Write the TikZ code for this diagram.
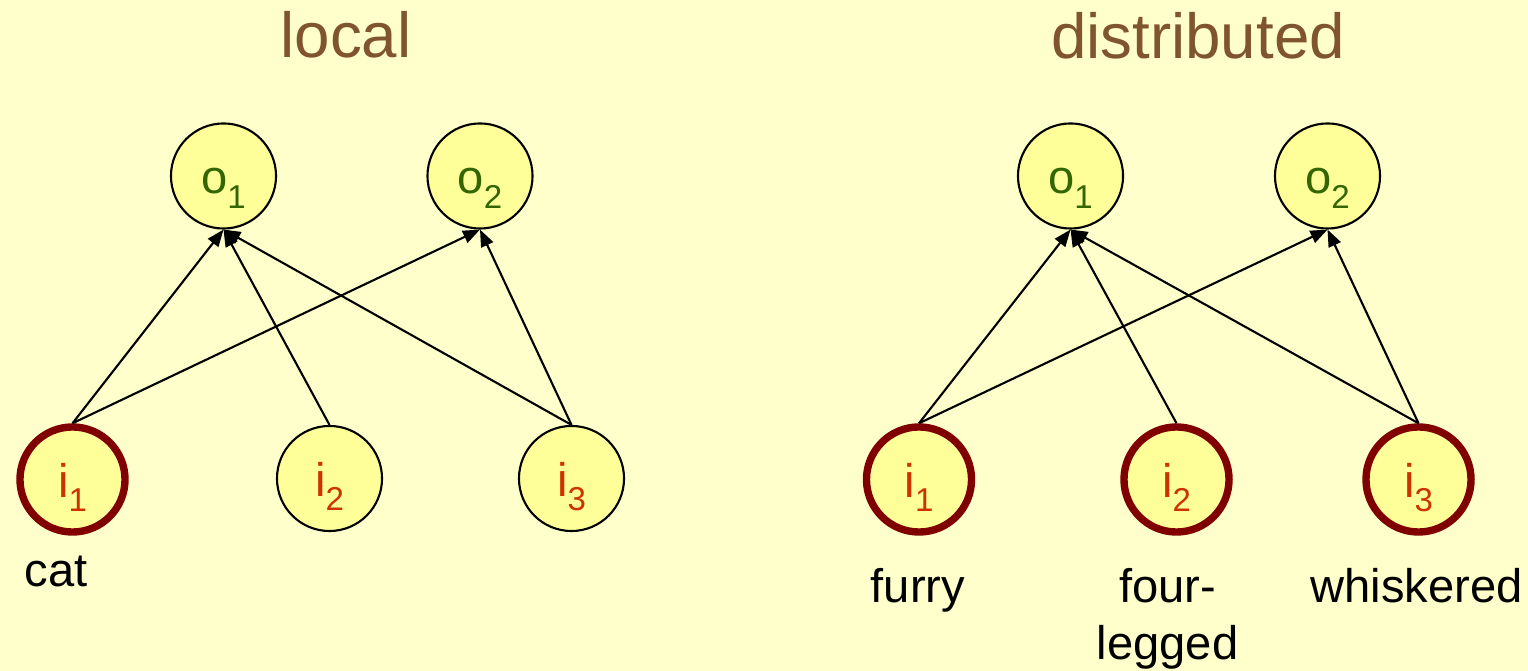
\documentclass[tikz,border=0pt]{standalone}
\usepackage{fontspec}
\setmainfont{Liberation Sans}
\usetikzlibrary{arrows.meta}
\definecolor{slidebg}{RGB}{255,255,204}
\definecolor{unitfill}{RGB}{255,255,153}
\definecolor{titlebrown}{RGB}{128,85,45}
\definecolor{outgreen}{RGB}{51,102,0}
\definecolor{inred}{RGB}{204,51,0}
\definecolor{ringred}{RGB}{128,0,0}
\newcommand{\unitname}[2]{#1\raisebox{-4pt}{\fontsize{9.4pt}{10pt}\selectfont #2}}
\tikzstyle{unit} = [circle, minimum size=1.05cm, inner sep=0pt, fill=unitfill, draw=black, line width=0.6pt, text height=0.5cm, text depth=0.14cm, font=\fontsize{13.4pt}{16pt}\selectfont]
\tikzstyle{outunit} = [unit, text=outgreen]
\tikzstyle{inunit} = [unit, text=inred]
\tikzstyle{active} = [draw=ringred, line width=2.1pt]
\tikzstyle{heading} = [anchor=base, text=titlebrown, font=\fontsize{18.1pt}{21pt}\selectfont]
\tikzstyle{feature} = [anchor=base, align=center, font=\fontsize{13.4pt}{16.3pt}\selectfont]
\tikzstyle{arrow} = [line width=0.6pt, -{Triangle[length=0.17cm,width=0.13cm]}]
\begin{document}
\begin{tikzpicture}[x=0.01cm, y=-0.01cm]
    \useasboundingbox [fill=slidebg] (0,0) rectangle (1528,671);

    % local
    \node (localtitle) [heading] at (346,58) {local};
    \node (lo1) [outunit] at (223.5,176) {\unitname{o}{1}};
    \node (lo2) [outunit] at (480,176) {\unitname{o}{2}};
    \node (li1) [inunit, active] at (72.5,479.5) {\unitname{i}{1}};
    \node (li2) [inunit] at (329.5,478.5) {\unitname{i}{2}};
    \node (li3) [inunit] at (571.5,478.5) {\unitname{i}{3}};
    \node (cat) [feature] at (56,587) {cat};

    \draw [arrow] (li1.north) -- (lo1.south);
    \draw [arrow] (li1.north) -- (lo2.south);
    \draw [arrow] (li2.north) -- (lo1.south);
    \draw [arrow] (li3.north) -- (lo1.south);
    \draw [arrow] (li3.north) -- (lo2.south);

    % distributed
    \node (disttitle) [heading] at (1198,59) {distributed};
    \node (do1) [outunit] at (1070.5,176) {\unitname{o}{1}};
    \node (do2) [outunit] at (1327.5,176) {\unitname{o}{2}};
    \node (di1) [inunit, active] at (919,479.5) {\unitname{i}{1}};
    \node (di2) [inunit, active] at (1176.5,479.5) {\unitname{i}{2}};
    \node (di3) [inunit, active] at (1418.5,479.5) {\unitname{i}{3}};
    \node (furry) [feature] at (918,603) {furry};
    \node (legged) [feature] at (1167.5,660) {four-\\legged};
    \node (whiskered) [feature] at (1416.5,603) {whiskered};

    \draw [arrow] (di1.north) -- (do1.south);
    \draw [arrow] (di1.north) -- (do2.south);
    \draw [arrow] (di2.north) -- (do1.south);
    \draw [arrow] (di3.north) -- (do1.south);
    \draw [arrow] (di3.north) -- (do2.south);

\end{tikzpicture}
\end{document}
